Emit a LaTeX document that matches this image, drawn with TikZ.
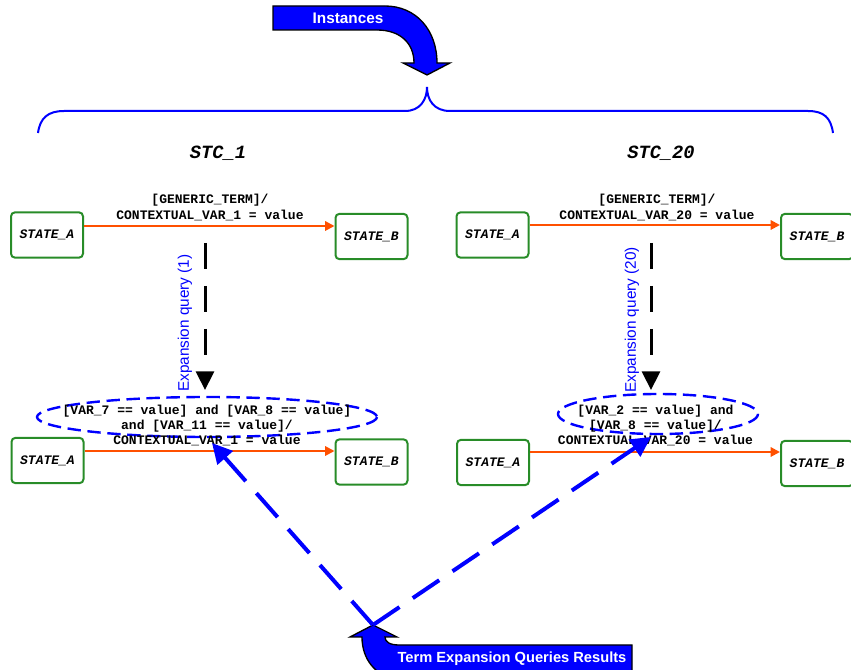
\documentclass[tikz,border=0pt]{standalone}
\usepackage{fontspec}
\setmainfont{Liberation Sans}
\setsansfont{Liberation Sans}
\setmonofont{Liberation Mono}
\usetikzlibrary{arrows.meta}
\definecolor{stategreen}{RGB}{40,140,40}
\definecolor{transorange}{RGB}{255,80,0}
\definecolor{pureblue}{RGB}{0,0,255}
\begin{document}
\begin{tikzpicture}[x=0.75pt,y=-0.75pt,
  statebox/.style={draw=stategreen,line width=1.5pt,rounded corners=3pt,
    minimum width=54pt,minimum height=34pt,inner sep=0pt,
    font=\ttfamily\bfseries\itshape\fontsize{9.75}{11}\selectfont},
  trans/.style={draw=transorange,line width=1.5pt,
    -{Triangle[length=7pt,width=7pt]}},
  translabel/.style={align=center,inner sep=0pt,
    font=\ttfamily\bfseries\fontsize{9.75}{11.5}\selectfont},
  stclabel/.style={font=\ttfamily\bfseries\itshape\fontsize{14}{16}\selectfont},
  query/.style={draw=black,line width=2.25pt,dash pattern=on 19.5pt off 12.75pt,
    -{Triangle[length=14pt,width=13.5pt]}},
  querylabel/.style={rotate=90,text=pureblue,font=\fontsize{11.5}{13}\selectfont},
  condition/.style={draw=pureblue,line width=1.8pt,dash pattern=on 10pt off 5pt},
  result/.style={draw=pureblue,line width=3pt,dash pattern=on 24pt off 12pt,
    -{Triangle[length=15pt,width=15pt]}},
  bigarrow/.style={fill=pureblue,draw=black,line width=1pt},
  bigarrowtext/.style={text=white,font=\bfseries\fontsize{11.5}{13}\selectfont}]
\useasboundingbox (0,0) rectangle (851,670);

% "Instances" curved arrow
\path[bigarrow] (273,6) -- (385,6) .. controls (416,6) and (437,30) .. (437,63)
  -- (450,63) -- (427,75) -- (403,63) -- (414,63)
  .. controls (414,43) and (400,30) .. (377,30) -- (273,30) -- cycle;
\node[bigarrowtext] (inst) at (348,18) {Instances};

% brace grouping the two state charts
\draw[pureblue,line width=1.5pt] (38,133) .. controls (40,118) and (48,111) .. (64,111)
  -- (405,111) .. controls (420,111) and (427,100) .. (427,87)
  .. controls (427,100) and (434,111) .. (450,111)
  -- (808,111) .. controls (824,111) and (831,118) .. (833,133);

\node[stclabel] (stc1) at (218,153) {STC\_1};
\node[stclabel] (stc20) at (661,153) {STC\_20};

% generic transitions
\node[statebox] (a1) at (47,235) {STATE\_A};
\node[statebox] (b1) at (371.5,236.5) {STATE\_B};
\node[statebox] (a20) at (492.5,235) {STATE\_A};
\node[statebox] (b20) at (817,236.5) {STATE\_B};
\draw[trans] (a1.east |- 0,226) -- (b1.west |- 0,226);
\draw[trans] (a20.east |- 0,225) -- (b20.west |- 0,225);
\node[translabel] (g1) at (210,207.5) {[GENERIC\_TERM]/\\CONTEXTUAL\_VAR\_1 = value};
\node[translabel] (g20) at (657,207.5) {[GENERIC\_TERM]/\\CONTEXTUAL\_VAR\_20 = value};

% expanded transitions
\node[statebox] (ea1) at (47.5,460.5) {STATE\_A};
\node[statebox] (eb1) at (371.5,462) {STATE\_B};
\node[statebox] (ea20) at (493,462.5) {STATE\_A};
\node[statebox] (eb20) at (817,463.5) {STATE\_B};
\draw[trans] (ea1.east |- 0,451) -- (eb1.west |- 0,451);
\draw[trans] (ea20.east |- 0,452) -- (eb20.west |- 0,452);

\draw[condition] (207,417) ellipse [x radius=170, y radius=20];
\draw[condition] (658,414) ellipse [x radius=100, y radius=20];
\node[translabel,font=\ttfamily\bfseries\fontsize{9.75}{11.6}\selectfont] (e1) at (207,425.5)
  {[VAR\_7 == value] and [VAR\_8 == value]\\and [VAR\_11 == value]/\\CONTEXTUAL\_VAR\_1 = value};
\node[translabel,font=\ttfamily\bfseries\fontsize{9.75}{11.6}\selectfont] (e20) at (655.5,425.5)
  {[VAR\_2 == value] and\\{}[VAR\_8 == value]/\\CONTEXTUAL\_VAR\_20 = value};

% expansion queries
\coordinate (q1s) at (205,243);
\coordinate (q1e) at (205,390);
\coordinate (q20s) at (651,243);
\coordinate (q20e) at (651,390);
\draw[query] (q1s) -- (q1e);
\draw[query] (q20s) -- (q20e);
\node[querylabel] (ql1) at (185,323) {Expansion query (1)};
\node[querylabel] (ql20) at (632,320) {Expansion query (20)};

% "Term Expansion Queries Results" curved arrow
\path[bigarrow] (632,680) -- (632,645) -- (399,645)
  .. controls (390,645) and (385,642) .. (385,637)
  -- (397,637) -- (373,625) -- (350,637) -- (362,637)
  .. controls (362,660) and (376,675) .. (395,680) -- cycle;
\node[bigarrowtext,font=\bfseries\fontsize{11}{13}\selectfont] (res) at (512,659) {Term Expansion Queries Results};

% results fed back into the expanded transitions
\coordinate (restip) at (373,625);
\coordinate (hit1) at (212,443);
\coordinate (hit20) at (651,437);
\draw[result] (restip) -- (hit1);
\draw[result] (restip) -- (hit20);
\end{tikzpicture}
\end{document}
